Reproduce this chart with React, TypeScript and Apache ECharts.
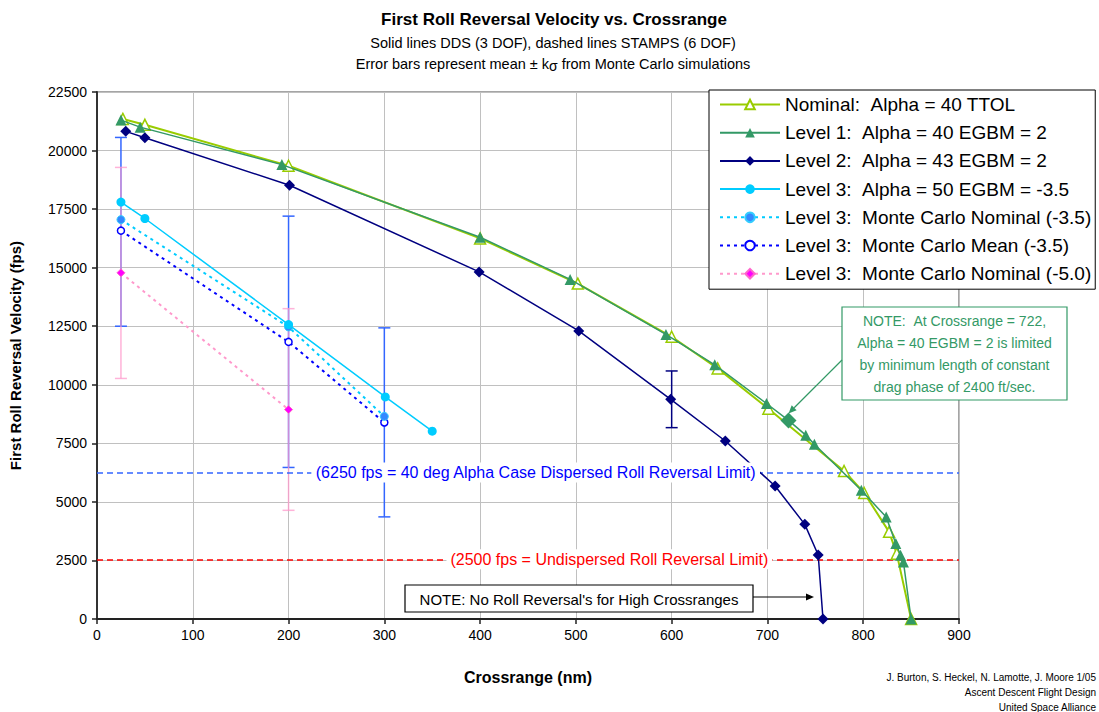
import React, { useEffect, useRef } from 'react';
import * as echarts from 'echarts';

const FONT = "Arial, 'Liberation Sans', Helvetica, sans-serif";

const seriesNames = [
  'Nominal:  Alpha = 40 TTOL',
  'Level 1:  Alpha = 40 EGBM = 2',
  'Level 2:  Alpha = 43 EGBM = 2',
  'Level 3:  Alpha = 50 EGBM = -3.5',
  'Level 3:  Monte Carlo Nominal (-3.5)',
  'Level 3:  Monte Carlo Mean (-3.5)',
  'Level 3:  Monte Carlo Nominal (-5.0)',
];

// [crossrange (nm), velocity (fps)]
const nominal = [[27, 21350], [50, 21100], [200, 19350], [400, 16250], [502, 14320], [600, 12050], [648, 10700], [701, 8980], [780, 6320], [801, 5380], [827, 3720], [835, 2790], [850, 0]];
const level1 = [[25, 21300], [45, 21000], [193, 19400], [400, 16300], [494, 14500], [594, 12150], [645, 10850], [699, 9200], [722, 8480], [740, 7850], [749, 7460], [798, 5500], [824, 4350], [834, 3220], [839, 2720], [842, 2430], [850, 0]];
const level1SpecialX = 722;
const level2 = [[30, 20820], [50, 20550], [201, 18520], [399, 14820], [503, 12300], [599, 9380], [656, 7600], [708, 5680], [739, 4040], [753, 2730], [758, 0]];
const level3 = [[25, 17800], [50, 17100], [200, 12570], [301, 9480], [350, 8020]];
const mcNominal35 = [[25, 17050], [200, 12470], [300, 8650]];
const mcMean35 = [[25, 16580], [200, 11830], [300, 8390]];
const mcNominal50 = [[25, 14780], [200, 8940]];

// error bars: [x, low, high]
const errBlue = [[25, 12500, 20560], [200, 6470, 17200], [300, 4360, 12430]];
const errPink = [[25, 10270, 19280], [200, 4640, 13250]];
const errNavy = [[600, 8170, 10590]];

const limitDispersed = 6250;
const limitUndispersed = 2550;
const dispersedLabelX = 458;
const undispersedLabelX = 535;

const xTicks = { min: 0, max: 900, interval: 100 };
const yTicks = { min: 0, max: 22500, interval: 2500 };

const keepSpaces = (s: string) => s.replace(/ {2}/g, ' \u00a0');

function errorSeries(name: string, data: number[][], color: string, opacity: number) {
  return {
    type: 'custom',
    name,
    data,
    z: 3,
    silent: true,
    encode: { x: 0, y: [1, 2] },
    renderItem: (params: any, api: any) => {
      const x = api.value(0);
      const lo = api.value(1);
      const hi = api.value(2);
      const p1 = api.coord([x, hi]);
      const p2 = api.coord([x, lo]);
      const w = 6;
      const style = { stroke: color, lineWidth: 1.5, opacity };
      return {
        type: 'group',
        children: [
          { type: 'line', shape: { x1: p1[0], y1: p1[1], x2: p2[0], y2: p2[1] }, style },
          { type: 'line', shape: { x1: p1[0] - w, y1: p1[1], x2: p1[0] + w, y2: p1[1] }, style },
          { type: 'line', shape: { x1: p2[0] - w, y1: p2[1], x2: p2[0] + w, y2: p2[1] }, style },
        ],
      };
    },
  };
}

function arrow(x1: number, y1: number, x2: number, y2: number, color: string) {
  const dx = x2 - x1, dy = y2 - y1;
  const len = Math.sqrt(dx * dx + dy * dy);
  const ux = dx / len, uy = dy / len;
  const hl = 8, hw = 3.5;
  const bx = x2 - ux * hl, by = y2 - uy * hl;
  return [
    { type: 'line', z: 60, shape: { x1, y1, x2: bx, y2: by }, style: { stroke: color, lineWidth: 1.2 } },
    {
      type: 'polygon', z: 60,
      shape: { points: [[x2, y2], [bx - uy * hw, by + ux * hw], [bx + uy * hw, by - ux * hw]] },
      style: { fill: color },
    },
  ];
}

export default function App() {
  const ref = useRef<HTMLDivElement>(null);
  useEffect(() => {
    document.body.style.margin = '0';
    const chart = echarts.init(ref.current!, null, { renderer: 'svg' });
    const lineW = 1.5;
    const option: any = {
      animation: false,
      backgroundColor: '#fff',
      textStyle: { fontFamily: FONT },
      grid: { left: 94, right: 140, top: 92, bottom: 93, show: true, borderColor: '#888', borderWidth: 1.5, backgroundColor: 'transparent' },
      legend: {
        data: seriesNames,
        formatter: (name: string) => keepSpaces(name),
        orient: 'vertical',
        left: 709,
        top: 90,
        padding: [5, 4, 6, 10],
        itemWidth: 60,
        itemHeight: 12,
        itemGap: 9.2,
        backgroundColor: '#fff',
        borderColor: '#000',
        borderWidth: 1,
        borderRadius: 0,
        textStyle: { fontFamily: FONT, fontSize: 19, color: '#000' },
        selectedMode: false,
      },
      xAxis: {
        type: 'value', ...xTicks,
        name: 'Crossrange (nm)', nameLocation: 'middle', nameGap: 50,
        nameTextStyle: { fontFamily: FONT, fontSize: 16, fontWeight: 'bold', color: '#000' },
        axisLine: { show: true, onZero: false, lineStyle: { color: '#222', width: 2 } },
        axisTick: { show: true, length: 5, lineStyle: { color: '#222', width: 1.5 } },
        axisLabel: { fontFamily: FONT, fontSize: 14, color: '#000', margin: 9 },
        splitLine: { show: true, lineStyle: { color: '#c0c0c0', width: 1 } },
      },
      yAxis: {
        type: 'value', ...yTicks,
        name: 'First Roll Reversal Velocity (fps)', nameLocation: 'middle', nameGap: 74,
        nameTextStyle: { fontFamily: FONT, fontSize: 15, fontWeight: 'bold', color: '#000' },
        axisLine: { show: true, onZero: false, lineStyle: { color: '#333', width: 2 } },
        axisTick: { show: true, length: 5, lineStyle: { color: '#222', width: 1.5 } },
        axisLabel: { fontFamily: FONT, fontSize: 14, color: '#000', margin: 10, formatter: (v: number) => String(v) },
        splitLine: { show: true, lineStyle: { color: '#c0c0c0', width: 1 } },
      },
      series: [
        {
          type: 'line', name: seriesNames[6], data: mcNominal50, z: 4,
          symbol: 'diamond', symbolSize: 8,
          lineStyle: { color: '#ff99cc', width: 2, type: [3, 4] },
          itemStyle: { color: '#ff00ff', borderColor: '#ff66cc', borderWidth: 1 },
        },
        {
          type: 'line', name: seriesNames[5], data: mcMean35, z: 4,
          symbol: 'circle', symbolSize: 7,
          lineStyle: { color: '#0000ff', width: 2, type: [3, 4] },
          itemStyle: { color: '#fff', borderColor: '#0000ff', borderWidth: 1.5 },
        },
        {
          type: 'line', name: seriesNames[4], data: mcNominal35, z: 4,
          symbol: 'circle', symbolSize: 8,
          lineStyle: { color: '#00ccff', width: 2, type: [3, 4] },
          itemStyle: { color: '#3388ff', borderColor: '#33ccff', borderWidth: 1 },
        },
        {
          type: 'line', name: seriesNames[3], data: level3, z: 5,
          symbol: 'circle', symbolSize: 9,
          lineStyle: { color: '#00ccff', width: lineW },
          itemStyle: { color: '#00ccff' },
        },
        {
          type: 'line', name: seriesNames[2], data: level2, z: 5,
          symbol: 'diamond', symbolSize: 11,
          lineStyle: { color: '#000080', width: lineW },
          itemStyle: { color: '#000080' },
          markLine: {
            silent: true, symbol: 'none', label: { show: false }, animation: false,
            data: [
              { yAxis: limitDispersed, lineStyle: { color: '#3366ff', width: 1.5, type: [6, 4] } },
              { yAxis: limitUndispersed, lineStyle: { color: '#ff0000', width: 1.5, type: [6, 4] } },
            ],
          },
        },
        {
          type: 'line', name: seriesNames[0], data: nominal, z: 6,
          symbol: 'triangle', symbolSize: 11,
          lineStyle: { color: '#99cc00', width: 2 },
          itemStyle: { color: '#fff', borderColor: '#99cc00', borderWidth: 1.5 },
        },
        {
          type: 'line', name: seriesNames[1], z: 7,
          data: level1.map((p) => (p[0] === level1SpecialX ? { value: p, symbol: 'diamond', symbolSize: 16 } : p)),
          symbol: 'triangle', symbolSize: 11,
          lineStyle: { color: '#339966', width: lineW },
          itemStyle: { color: '#339966' },
        },
        errorSeries('errBlue', errBlue, '#3366ff', 1),
        errorSeries('errPink', errPink, '#ff99cc', 0.75),
        errorSeries('errNavy', errNavy, '#000080', 1),
      ],
    };
    chart.setOption(option);

    const px = (x: number, y: number) => chart.convertToPixel({ gridIndex: 0 }, [x, y]) as number[];
    const pBlue = px(dispersedLabelX, limitDispersed);
    const pRed = px(undispersedLabelX, limitUndispersed);
    const pSpecial = px(722, 8480);
    const pL2End = px(758, 0);

    const graphic: any[] = [
      { type: 'text', z: 50, x: 554, y: 19, style: { text: 'First Roll Reversal Velocity vs. Crossrange', font: `bold 17px ${FONT}`, fill: '#000', align: 'center', verticalAlign: 'middle' } },
      { type: 'text', z: 50, x: 553, y: 43, style: { text: 'Solid lines DDS (3 DOF), dashed lines STAMPS (6 DOF)', font: `14.5px ${FONT}`, fill: '#000', align: 'center', verticalAlign: 'middle' } },
      {
        type: 'text', z: 50, x: 553, y: 64,
        style: {
          text: 'Error bars represent mean ± k{s|σ} from Monte Carlo simulations',
          font: `14.5px ${FONT}`, fill: '#000', align: 'center', verticalAlign: 'middle',
          rich: { s: { font: `14px ${FONT}`, fill: '#000', padding: [4, 0, 0, 0] } },
        },
      },
      { type: 'text', z: 50, x: 1096, y: 677, style: { text: 'J. Burton, S. Heckel, N. Lamotte, J. Moore 1/05', font: `10px ${FONT}`, fill: '#000', align: 'right', verticalAlign: 'middle' } },
      { type: 'text', z: 50, x: 1096, y: 692, style: { text: 'Ascent Descent Flight Design', font: `10px ${FONT}`, fill: '#000', align: 'right', verticalAlign: 'middle' } },
      { type: 'text', z: 50, x: 1096, y: 707, style: { text: 'United Space Alliance', font: `10px ${FONT}`, fill: '#000', align: 'right', verticalAlign: 'middle' } },
      {
        type: 'text', z: 50, x: pBlue[0], y: pBlue[1],
        style: { text: '(6250 fps = 40 deg Alpha Case Dispersed Roll Reversal Limit)', font: `16px ${FONT}`, fill: '#0000ff', align: 'center', verticalAlign: 'middle', backgroundColor: '#fff', padding: [2, 4] },
      },
      {
        type: 'text', z: 50, x: pRed[0], y: pRed[1],
        style: { text: '(2500 fps = Undispersed Roll Reversal Limit)', font: `16px ${FONT}`, fill: '#ff0000', align: 'center', verticalAlign: 'middle', backgroundColor: '#fff', padding: [2, 4] },
      },
      // Black note
      { type: 'rect', z: 55, shape: { x: 405, y: 585, width: 348, height: 27 }, style: { fill: '#fff', stroke: '#000', lineWidth: 1.2 } },
      { type: 'text', z: 56, x: 579, y: 599, style: { text: "NOTE: No Roll Reversal's for High Crossranges", font: `15px ${FONT}`, fill: '#000', align: 'center', verticalAlign: 'middle' } },
      ...arrow(753, 597, pL2End[0] - 9, 597, '#000'),
      // Green note
      { type: 'rect', z: 55, shape: { x: 842, y: 307, width: 225, height: 93 }, style: { fill: '#fff', stroke: '#339966', lineWidth: 1.2 } },
      {
        type: 'text', z: 56, x: 954.5, y: 354,
        style: {
          text: keepSpaces('NOTE:  At Crossrange = 722,') + '\nAlpha = 40 EGBM = 2 is limited\nby minimum length of constant\ndrag phase of 2400 ft/sec.',
          font: `14px ${FONT}`, fill: '#339966', align: 'center', verticalAlign: 'middle', lineHeight: 22,
        },
      },
      ...arrow(842, 360, pSpecial[0], pSpecial[1] - 7, '#339966'),
    ];
    chart.setOption({ graphic });

    return () => chart.dispose();
  }, []);
  return <div ref={ref} style={{ width: 1099, height: 712 }} />;
}
